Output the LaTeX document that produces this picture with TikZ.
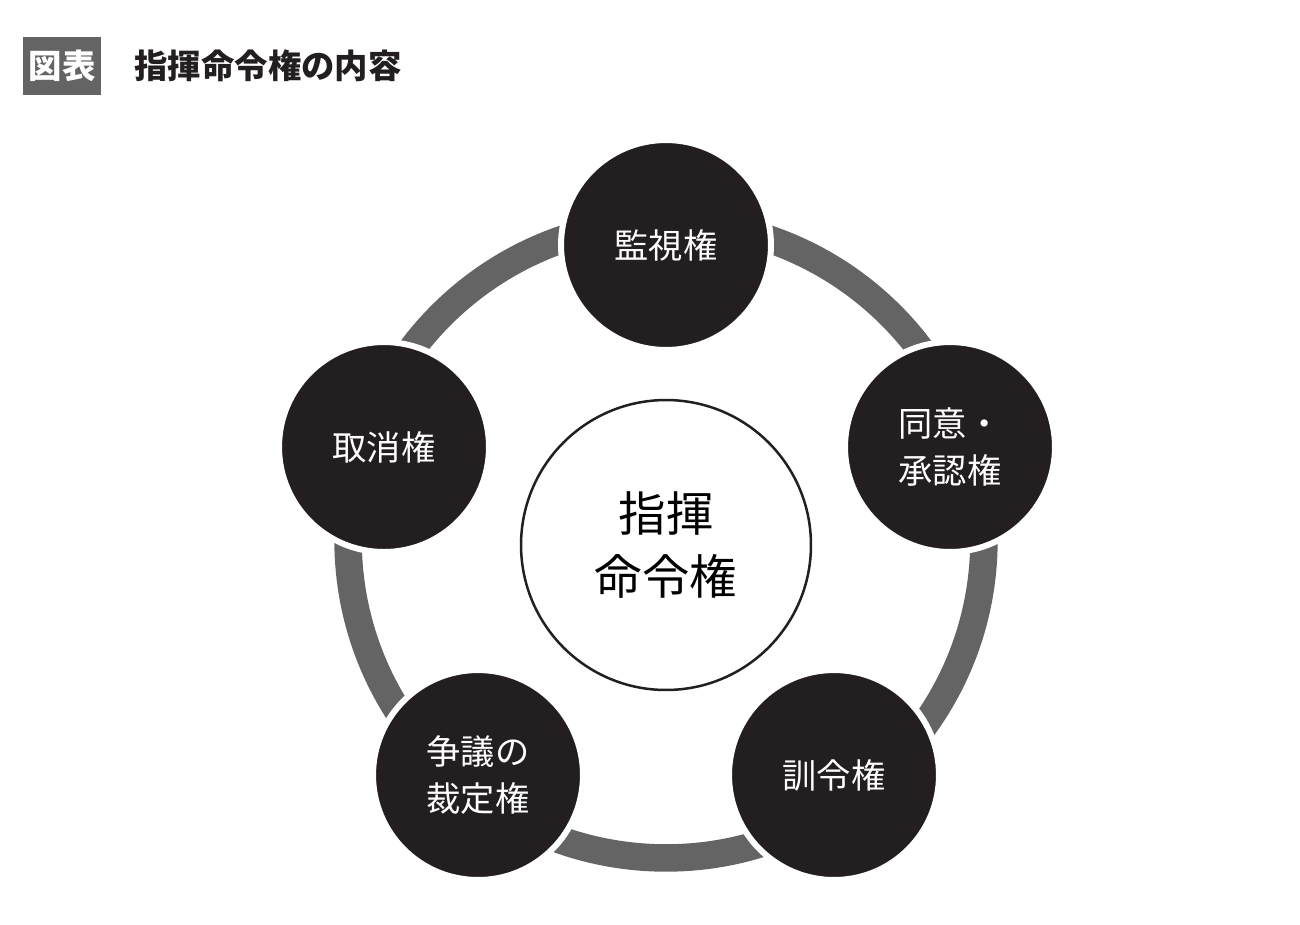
\documentclass[tikz,border=0pt]{standalone}
\usepackage{fontspec}
\setmainfont{Noto Sans CJK JP}
\usepackage{tikz}

\definecolor{ringgray}{HTML}{646464}
\definecolor{nodeblack}{HTML}{231F20}

\begin{document}
\begin{tikzpicture}
            [x=0.02cm,y=-0.02cm,thick,
             every node/.style={align=center},
             power/.style={circle,fill=nodeblack,draw=white,line width=1.2mm,minimum size=4.2cm,text=white,font=\fontsize{19.5}{27}\selectfont}]
            \useasboundingbox (0,0) rectangle (1300,924);
            % title
            \node[fill=ringgray,text=white,font=\fontsize{19}{20}\bfseries,minimum width=1.4cm,minimum height=1.16cm] (tag) at (62,66) {図表};
            \node[anchor=west,text=nodeblack,font=\fontsize{19}{20}\bfseries] (title) at (128,66) {指揮命令権の内容};
            % ring
            \coordinate (c) at (666,540);
            \draw[ringgray,line width=0.55cm] (c) circle[radius=6.36cm];
            \node[circle,draw=nodeblack,line width=0.5mm,fill=white,minimum size=5.8cm,font=\fontsize{27}{36}\selectfont] (main) at (666,545) {指揮\\命令権};
            \node[power] (p1) at (666,245) {監視権};
            \node[power] (p2) at (950,447) {同意・\\承認権};
            \node[power] (p3) at (834,775) {訓令権};
            \node[power] (p4) at (478,775) {争議の\\裁定権};
            \node[power] (p5) at (384,447) {取消権};

        \end{tikzpicture}
\end{document}
